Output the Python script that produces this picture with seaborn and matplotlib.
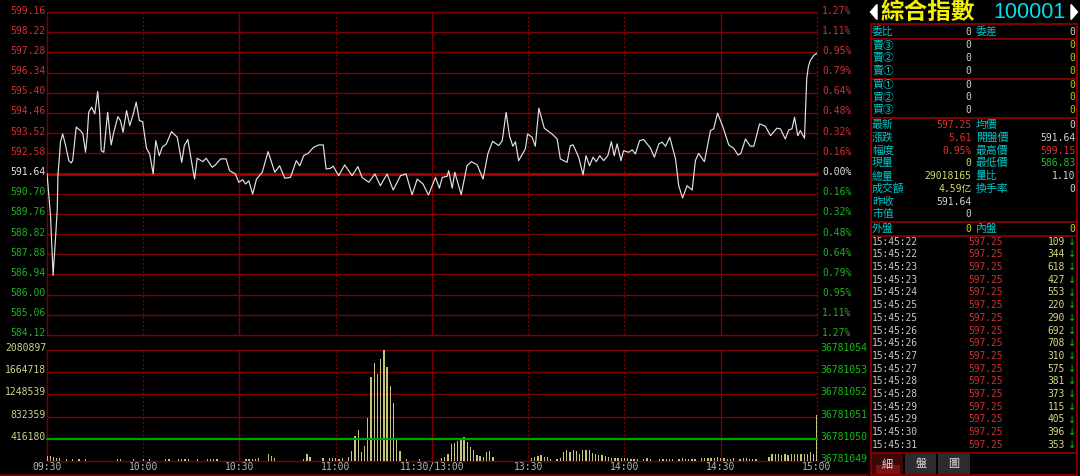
import matplotlib
matplotlib.use("Agg")
import matplotlib.pyplot as plt
from matplotlib.lines import Line2D
from matplotlib.patches import Rectangle, Polygon
import seaborn as sns
import pandas as pd

W, H = 1080, 477
sns.set_theme(style="dark")
plt.rcParams["font.family"] = ["DejaVu Sans Mono", "Noto Sans CJK TC"]

# ---------------- data ----------------
price_ticks = [599.16, 598.22, 597.28, 596.34, 595.40, 594.46, 593.52, 592.58, 591.64,
               590.70, 589.76, 588.82, 587.88, 586.94, 586.00, 585.06, 584.12]
pct_labels = ["1.27%", "1.11%", "0.95%", "0.79%", "0.64%", "0.48%", "0.32%", "0.16%", "0.00%",
              "0.16%", "0.32%", "0.48%", "0.64%", "0.79%", "0.95%", "1.11%", "1.27%"]
vol_ticks = [2080897, 1664718, 1248539, 832359, 416180]
vol_right_labels = ["36781054", "36781053", "36781052", "36781051", "36781050", "36781049"]
time_labels = ["09:30", "10:00", "10:30", "11:00", "11:30/13:00", "13:30", "14:00", "14:30", "15:00"]
time_label_minutes = [0, 30, 60, 90, 120, 150, 180, 210, 240]

price_minutes = [0, 1.1, 1.9, 2.3, 2.7, 3.2, 3.4, 3.9, 4.2, 4.9,
                 5.8, 6.8, 7.5, 8.0, 9.1, 10.4, 11.2, 12.0, 12.5, 13.0,
                 13.9, 14.9, 15.8, 16.4, 16.9, 17.7, 18.9, 20.0, 20.8, 22.1,
                 22.9, 23.7, 24.8, 25.8, 26.9, 27.8, 28.8, 29.8, 31.0, 32.0,
                 33.1, 33.9, 35.0, 35.9, 37.2, 38.8, 40.6, 42.0, 42.8, 43.9,
                 44.9, 46.0, 46.8, 48.6, 49.6, 51.5, 52.5, 54.1, 55.8, 56.9,
                 58.7, 59.8, 61.0, 61.9, 62.9, 64.1, 65.3, 67.1, 68.9, 71.0,
                 72.5, 74.1, 75.9, 77.7, 78.8, 80.0, 81.4, 83.1, 84.7, 86.1,
                 87.0, 88.3, 89.2, 90.9, 92.8, 95.1, 96.9, 98.2, 100.3, 102.2,
                 103.9, 106.0, 107.9, 110.2, 111.9, 113.8, 115.4, 117.2, 118.9, 121.1,
                 122.3, 123.2, 124.7, 125.2, 126.3, 127.1, 129.1, 130.9, 132.3, 134.1,
                 135.9, 137.4, 138.9, 140.8, 141.9, 143.1, 144.2, 145.2, 146.0, 147.0,
                 149.1, 149.8, 151.2, 152.2, 153.3, 155.0, 157.4, 159.0, 160.0, 161.0,
                 162.1, 163.1, 164.0, 165.7, 167.1, 168.0, 169.1, 170.2, 171.2, 172.3,
                 173.5, 174.8, 175.9, 176.8, 177.7, 178.9, 179.7, 181.3, 182.4, 183.4,
                 184.7, 186.0, 188.1, 189.3, 190.7, 191.7, 192.8, 194.1, 195.9, 196.9,
                 198.1, 199.5, 201.1, 202.1, 203.1, 204.9, 206.8, 207.8, 209.0, 210.7,
                 212.5, 214.0, 215.4, 216.3, 217.7, 219.2, 220.3, 222.1, 223.9, 225.5,
                 227.5, 228.6, 230.1, 231.2, 232.2, 233.0, 234.0, 234.8, 236.1, 236.4,
                 236.8, 237.3, 237.9, 239.0, 240.0]
price_values = [591.64, 589.67, 586.90, 587.81, 588.74, 589.98, 591.54, 592.47, 593.11, 593.48,
                592.94, 592.24, 592.13, 592.24, 593.80, 593.64, 593.48, 592.63, 593.33, 594.49,
                594.73, 594.42, 595.46, 594.49, 592.70, 592.63, 594.49, 592.97, 593.56, 594.29,
                594.10, 593.56, 594.57, 593.87, 594.42, 594.96, 594.10, 594.06, 592.82, 592.55,
                591.62, 593.17, 592.47, 592.86, 593.02, 593.59, 593.33, 592.16, 592.94, 593.22,
                592.32, 591.38, 592.35, 592.19, 592.35, 591.93, 592.04, 592.32, 592.32, 591.77,
                591.62, 591.23, 591.35, 591.15, 591.30, 590.68, 591.38, 591.70, 592.66, 591.70,
                592.00, 591.42, 591.46, 592.24, 592.00, 592.47, 592.58, 592.86, 592.97, 592.97,
                591.85, 591.88, 591.98, 591.54, 592.04, 591.54, 591.96, 591.46, 591.23, 591.62,
                591.07, 591.62, 590.87, 591.54, 591.62, 590.65, 591.38, 591.15, 590.64, 591.46,
                590.96, 591.46, 591.51, 591.77, 590.96, 591.70, 590.65, 592.00, 592.19, 592.04,
                591.38, 592.55, 593.14, 592.94, 593.17, 594.49, 593.36, 592.91, 593.12, 592.24,
                592.78, 593.48, 593.33, 592.91, 594.68, 593.75, 593.48, 593.25, 592.32, 592.24,
                592.16, 592.94, 592.97, 592.40, 591.58, 592.47, 592.00, 592.40, 592.19, 592.47,
                592.24, 592.47, 593.12, 592.47, 593.02, 592.24, 592.70, 592.63, 592.74, 592.55,
                593.17, 593.22, 592.82, 592.40, 593.02, 593.10, 592.91, 593.33, 592.32, 591.07,
                590.50, 591.07, 590.87, 592.24, 592.58, 592.19, 593.64, 593.72, 594.45, 593.80,
                592.97, 592.82, 592.50, 592.58, 593.25, 592.91, 592.91, 593.95, 593.84, 593.40,
                593.75, 593.72, 593.25, 593.67, 593.72, 594.26, 593.40, 593.64, 593.28, 594.42,
                596.05, 596.61, 596.90, 597.14, 597.25]

vol_minutes = [0, 1, 2, 3, 4, 6, 8, 10, 12, 22, 23, 27, 30, 32, 37, 38, 41, 42, 43, 44, 47, 50, 51, 52, 53,
               62, 63, 64, 65, 66, 69, 70, 71, 80, 81, 82, 86, 88, 89, 90, 91, 92, 94, 95, 96, 97, 98, 99, 100,
               101, 102, 103, 104, 105, 106, 107, 108, 109, 110, 112, 116,
               123, 124, 125, 126, 127, 128, 129, 130, 131, 132, 133, 134, 135, 136, 137, 138, 139,
               151, 152, 153, 154, 155, 156, 157, 159, 160, 161, 162, 163, 164, 165, 166, 167, 168, 169, 170,
               171, 172, 173, 174, 175, 176, 177, 178, 179, 180, 181, 182, 183, 184, 186, 187, 188,
               191, 192, 193, 194, 195, 197, 198, 199, 200, 201, 202, 204, 205, 206, 207, 208, 209, 210,
               211, 212, 213, 214, 216, 217, 218, 219, 220, 221, 225, 226, 227, 228, 229, 230,
               231, 232, 233, 234, 235, 236, 237, 238, 239, 240]
vol_values = [93700, 93700, 75000, 62000, 50600, 31900, 31900, 31900, 31900,
              31900, 31900, 31900, 31900, 31900, 31900, 31900, 31900, 31900, 31900, 31900, 31900, 31900, 31900, 31900, 31900,
              37500, 43100, 37500, 43100, 50600, 131200, 93700, 50600, 37500, 131200, 69400, 50600,
              50600, 50600, 50600, 37500, 50600, 80600, 181800, 474300, 581200, 163100, 286800, 800500,
              1580400, 1831600, 1631000, 1912200, 2080897, 1767800, 1400400, 1087300, 412400, 193100, 37500, 37500,
              56200, 69400, 136900, 318700, 337400, 380600, 412400, 444300, 350600, 256800, 206200, 112500,
              99400, 80600, 174300, 181800, 69400,
              56200, 80600, 93700, 112500, 69400, 80600, 31900, 31900, 61900, 163100, 211800, 174300,
              211800, 181800, 131200, 211800, 211800, 211800, 144300,
              131200, 112500, 118100, 99400, 69400, 61900, 56200, 56200, 56200, 56200, 50600, 37500,
              37500, 31900, 37500, 50600, 37500,
              37500, 37500, 37500, 37500, 37500, 37500, 50600, 37500, 37500, 37500, 37500, 50600,
              50600, 50600, 50600, 50600, 80600, 61900,
              50600, 37500, 37500, 56200, 37500, 56200, 56200, 37500, 37500, 37500, 80600, 131200,
              131200, 131200, 118100, 131200,
              118100, 131200, 131200, 131200, 131200, 131200, 131200, 174300, 131200, 862400]

title_name = "綜合指數"
title_code = "100001"
quote_rows_left = [("最新", "597.25", "#e03030"), ("漲跌", "5.61", "#e03030"), ("幅度", "0.95%", "#e03030"),
                   ("現量", "0", "#d8d870"), ("總量", "29018165", "#d8d870"), ("成交額", "4.59亿", "#d8d870"),
                   ("昨收", "591.64", "#d0d0d0"), ("市值", "0", "#d0d0d0")]
quote_rows_right = [("均價", "0", "#d0d0d0"), ("開盤價", "591.64", "#d0d0d0"), ("最高價", "599.15", "#e03030"),
                    ("最低價", "586.83", "#20c020"), ("量比", "1.10", "#d0d0d0"), ("換手率", "0", "#d0d0d0")]
book_labels = ["賣③", "賣②", "賣①", "買①", "買②", "買③"]
tick_times = ["15:45:22", "15:45:22", "15:45:23", "15:45:23", "15:45:24", "15:45:25", "15:45:25",
              "15:45:26", "15:45:26", "15:45:27", "15:45:27", "15:45:28", "15:45:28", "15:45:29",
              "15:45:29", "15:45:30", "15:45:31"]
tick_price = "597.25"
tick_vols = [109, 344, 618, 427, 553, 220, 290, 692, 708, 310, 575, 381, 373, 115, 405, 396, 353]
tabs = ["細", "盤", "圖"]

# ---------------- figure ----------------
fig = plt.figure(figsize=(W / 100, H / 100), dpi=100)
fig.patch.set_facecolor("black")


def fx(x):
    return x / W


def fy(y):
    return 1 - y / H


L, R = 47, 817
PT, PB = 13, 336
VT, VB = 351, 462
GRID = "#7d0000"
MONO = ["DejaVu Sans Mono", "Noto Sans CJK TC"]
CJK = ["Noto Sans CJK TC", "DejaVu Sans"]

axp = fig.add_axes([fx(L), fy(PB), (R - L) / W, (PB - PT) / H])
axv = fig.add_axes([fx(L), fy(VB), (R - L) / W, (VB - VT) / H])

for i, v in enumerate(price_ticks):
    if i == 8:
        axp.axhline(v, color="#a00000", lw=2.2, clip_on=False, zorder=1)
    else:
        axp.axhline(v, color=GRID, lw=1.0, clip_on=False, zorder=1)

solid_min = [0, 60, 120, 210]
for m in [0, 30, 60, 90, 120, 150, 180, 210, 240]:
    ls = "-" if m in solid_min else (0, (1.5, 1.5))
    for ax in (axp, axv):
        ax.axvline(m, color=GRID, lw=1.0, ls=ls, clip_on=False, zorder=1)

vmax = vol_ticks[0]
for k in range(6):
    lvl = vmax * k / 5
    if k == 1:
        continue
    axv.axhline(lvl, color=GRID, lw=1.0, clip_on=False, zorder=1)

price_df = pd.DataFrame({"minute": price_minutes, "price": price_values})
sns.lineplot(data=price_df, x="minute", y="price", ax=axp, color="#e2e2e2", lw=0.85,
             sort=False, zorder=3)

vol_df = pd.DataFrame({"minute": vol_minutes, "volume": vol_values})
sns.barplot(data=vol_df, x="minute", y="volume", ax=axv, native_scale=True, width=0.4,
            color="#c4c47c", saturation=1, errorbar=None, linewidth=0, zorder=2)
axv.axhline(vol_ticks[-1], color="#00a000", lw=1.6, zorder=4, clip_on=False)

for ax in (axp, axv):
    ax.set_facecolor("black")
    for s in ax.spines.values():
        s.set_visible(False)
    ax.set_xticks([])
    ax.set_yticks([])
    ax.set_xlabel("")
    ax.set_ylabel("")
    ax.grid(False)
    ax.set_xlim(0, 240)
axp.set_ylim(price_ticks[-1], price_ticks[0])
axv.set_ylim(0, vmax)

# price / percent labels
step = (PB - PT) / 16
for i, (lab, pl) in enumerate(zip(price_ticks, pct_labels)):
    y = PT + i * step - 2.5
    col = "#d03030" if i < 8 else ("#e0e0e0" if i == 8 else "#20b020")
    fig.text(fx(46), fy(y), f"{lab:.2f}", ha="right", va="center", color=col, fontsize=7, family=MONO)
    fig.text(fx(822), fy(y), pl, ha="left", va="center", color=col, fontsize=7, family=MONO)

vstep = (VB - VT) / 5
for i, v in enumerate(vol_ticks):
    y = VT + i * vstep - 3
    fig.text(fx(46), fy(y), str(v), ha="right", va="center", color="#d0d090", fontsize=7, family=MONO)
for i, s in enumerate(vol_right_labels):
    y = VT + i * vstep - 3 if i < 5 else VB - 3
    fig.text(fx(820), fy(y), s, ha="left", va="center", color="#10c010", fontsize=7, family=MONO)

xs = (R - L) / 240
for m, s in zip(time_label_minutes, time_labels):
    fig.text(fx(L + m * xs), fy(467.5), s, ha="center", va="center", color="#b8b8b8",
             fontsize=7, family=MONO)

fig.add_artist(Line2D([0, fx(868)], [fy(475.5), fy(475.5)], color=GRID, lw=1.2))

# ---------------- right panel ----------------
def t(x, y, s, color, ha="left", size=7, family=None, weight="normal"):
    fig.text(fx(x), fy(y), s, ha=ha, va="center", color=color, fontsize=size,
             family=family or MONO, fontweight=weight)


fig.add_artist(Polygon([[fx(870.5), fy(13)], [fx(877), fy(5.5)], [fx(877), fy(20.5)]],
                       closed=True, color="white", transform=fig.transFigure))
fig.add_artist(Polygon([[fx(1071), fy(5.5)], [fx(1077.5), fy(13)], [fx(1071), fy(20.5)]],
                       closed=True, color="white", transform=fig.transFigure))
t(881, 12, title_name, "#f0f000", size=17, family=CJK, weight="bold")
t(1066, 13, title_code, "#00e0ee", ha="right", size=15.5, family=["Liberation Sans", "DejaVu Sans"])

BOX = "#8a0000"
fig.add_artist(Rectangle((fx(870.5), fy(476)), fx(1076.5) - fx(870.5), fy(24.5) - fy(476),
                         fill=False, ec=BOX, lw=1.3, transform=fig.transFigure))
for yy in [39.5, 79.5, 118.5, 222.5, 236.5, 453.5]:
    fig.add_artist(Line2D([fx(870.5), fx(1076.5)], [fy(yy), fy(yy)], color=BOX, lw=1.3))

CY = "#00c8c8"
LBL = 7.8
t(872, 32, "委比", CY, size=LBL, family=CJK)
t(971.5, 32, "0", "#d0d0d0", ha="right")
t(976, 32, "委差", CY, size=LBL, family=CJK)
t(1075.5, 32, "0", "#d0d0d0", ha="right")

book_y = [45.5, 58, 70.5, 85, 97.5, 110]
for lab, yy in zip(book_labels, book_y):
    t(872, yy, lab, CY, size=LBL, family=CJK)
    t(971.5, yy, "0", "#d0d0d0", ha="right")
    t(1075.5, yy, "0", "#c8c800", ha="right")

q_y = [125, 138, 150.5, 163, 176.5, 189, 202, 214]
for (lab, val, col), yy in zip(quote_rows_left, q_y):
    t(872, yy, lab, CY, size=LBL, family=CJK)
    t(971.5, yy, val, col, ha="right")
for (lab, val, col), yy in zip(quote_rows_right, q_y):
    t(976, yy, lab, CY, size=LBL, family=CJK)
    t(1075.5, yy, val, col, ha="right")

t(872, 229, "外盤", CY, size=LBL, family=CJK)
t(971.5, 229, "0", "#d8d800", ha="right")
t(976, 229, "內盤", CY, size=LBL, family=CJK)
t(1075.5, 229, "0", "#d8d800", ha="right")

for i, (tm, vv) in enumerate(zip(tick_times, tick_vols)):
    yy = 241.7 + i * 12.7
    t(872, yy, tm, "#c8c8c8", size=6.9)
    t(968, yy, tick_price, "#d03030", size=6.9)
    t(1065, yy, str(vv), "#d8d880", ha="right", size=6.9)
    t(1072.5, yy, "↓", "#00d000", ha="center", size=7, family=["DejaVu Sans"])

tab_x = [(871.5, 903.5), (905, 936.5), (938, 969.5)]
for k, ((x0, x1), lab) in enumerate(zip(tab_x, tabs)):
    if k == 0:
        fig.add_artist(Rectangle((fx(x0), fy(475)), fx(x1) - fx(x0), fy(455) - fy(475),
                                 fc="#3a0808", ec="none", transform=fig.transFigure))
        fig.add_artist(Rectangle((fx(x0 + 4), fy(475)), fx(x1 - 4) - fx(x0 + 4), fy(466) - fy(475),
                                 fc="#7a1010", ec="none", transform=fig.transFigure))
    else:
        fig.add_artist(Rectangle((fx(x0), fy(475)), fx(x1) - fx(x0), fy(455) - fy(475),
                                 fc="#2c2c2c", ec="none", transform=fig.transFigure))
    t((x0 + x1) / 2, 464.5, lab, "#e0e0e0", ha="center", size=8, family=CJK)

fig.savefig("out.png", dpi=100, facecolor="black")
